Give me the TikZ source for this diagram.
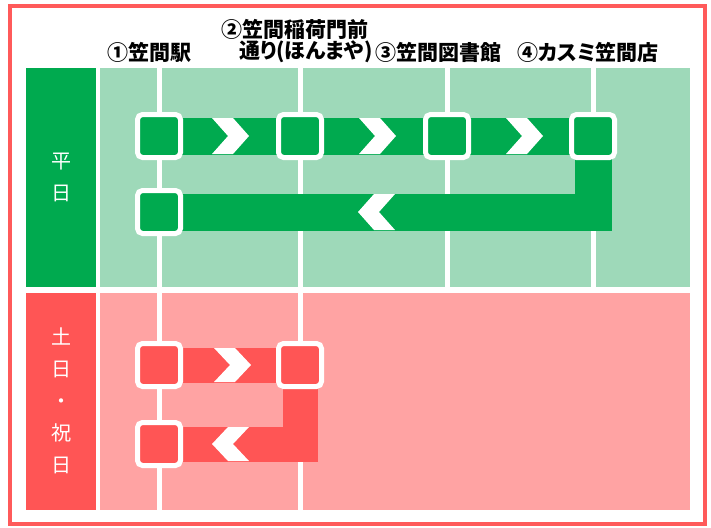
\documentclass[tikz,border=0pt]{standalone}
\usepackage{fontspec}
\newfontfamily\jp[RawFeature=+palt]{Noto Sans CJK JP}
\definecolor{dgreen}{HTML}{00AA4F}
\definecolor{lgreen}{HTML}{9ED9B9}
\definecolor{dred}{HTML}{FF5555}
\definecolor{lred}{HTML}{FFA3A3}
\definecolor{frame}{HTML}{FF5A5A}
\pgfdeclarelayer{bg}
\pgfdeclarelayer{bars}
\pgfsetlayers{bg,bars,main}
\begin{document}
\begin{tikzpicture}[x=1pt,y=-1pt]
\tikzset{ inner sep=0pt, outer sep=0pt,
  stn/.style={draw=white, line width=5pt, rounded corners=5pt, minimum size=43pt},
  gstn/.style={stn, fill=dgreen},
  rstn/.style={stn, fill=dred},
  gbar/.style={dgreen, line width=37pt, line join=miter},
  rbar/.style={dred, line width=35pt, line join=miter},
  head/.style={font=\jp\bfseries\fontsize{21}{24}\selectfont, anchor=west},
  side/.style={font=\jp\fontsize{20}{32}\selectfont, white, align=center},
}

\useasboundingbox (0,0) rectangle (711,527);

% marco
\draw [frame, line width=4pt] (10,6) rectangle (705,524);

\begin{pgfonlayer}{bg}
% paineis
\fill [dgreen] (26,68) rectangle (96,287);
\fill [lgreen] (100,68) rectangle (690,287);
\fill [dred] (26,293) rectangle (96,510);
\fill [lred] (100,293) rectangle (690,510);

% linhas das paradas
\draw [white, line width=5pt] (159,68) -- (159,287);
\draw [white, line width=5pt] (300,68) -- (300,287);
\draw [white, line width=5pt] (447,68) -- (447,287);
\draw [white, line width=5pt] (593,68) -- (593,287);
\draw [white, line width=5pt] (159,293) -- (159,510);
\draw [white, line width=5pt] (300,293) -- (300,510);
\end{pgfonlayer}

% cabecalho
\node [head] (H1) at (107,52) {①笠間駅};
\node [head] (H2) at (221,29) {②笠間稲荷門前};
\node [head] (H2b) at (239,52) {通り(ほんまや)};
\node [head] (H3) at (375,52) {③笠間図書館};
\node [head] (H4) at (517,52) {④カスミ笠間店};

\node [side] (WD) at (61,177) {平\\日};
\node [side] (HD) at (61,401) {土\\日\\・\\祝\\日};

% paradas - dias uteis
\node [gstn] (G1) at (159,136) {};
\node [gstn] (G2) at (300,136) {};
\node [gstn] (G3) at (447,136) {};
\node [gstn] (G4) at (593,136) {};
\node [gstn] (G5) at (159,212) {};

% paradas - fim de semana
\node [rstn] (R1) at (159,365) {};
\node [rstn] (R2) at (300,365) {};
\node [rstn] (R3) at (159,444) {};

\begin{pgfonlayer}{bars}
% percurso dias uteis
\draw [gbar] (G1) -- (G2);
\draw [gbar] (G2) -- (G3);
\draw [gbar] (G3) -- (G4);
\draw [gbar] (G4) -- (G4 |- G5) -- (G5);
\fill [white, shift={(230,136)}] (-18,-18) -- (3,-18) -- (19,0) -- (3,18) -- (-18,18) -- (-2,0) -- cycle;
\fill [white, shift={(377,136)}] (-18,-18) -- (3,-18) -- (19,0) -- (3,18) -- (-18,18) -- (-2,0) -- cycle;
\fill [white, shift={(524,136)}] (-18,-18) -- (3,-18) -- (19,0) -- (3,18) -- (-18,18) -- (-2,0) -- cycle;
\fill [white, shift={(377,212)}] (18,-18) -- (-3,-18) -- (-19,0) -- (-3,18) -- (18,18) -- (2,0) -- cycle;

% percurso fim de semana
\draw [rbar] (R1) -- (R2);
\draw [rbar] (R2) -- (R2 |- R3) -- (R3);
\fill [white, shift={(232,365)}] (-18,-17) -- (3,-17) -- (19,0) -- (3,17) -- (-18,17) -- (-2,0) -- cycle;
\fill [white, shift={(231,444)}] (18,-17) -- (-3,-17) -- (-19,0) -- (-3,17) -- (18,17) -- (2,0) -- cycle;
\end{pgfonlayer}

\end{tikzpicture}
\end{document}
